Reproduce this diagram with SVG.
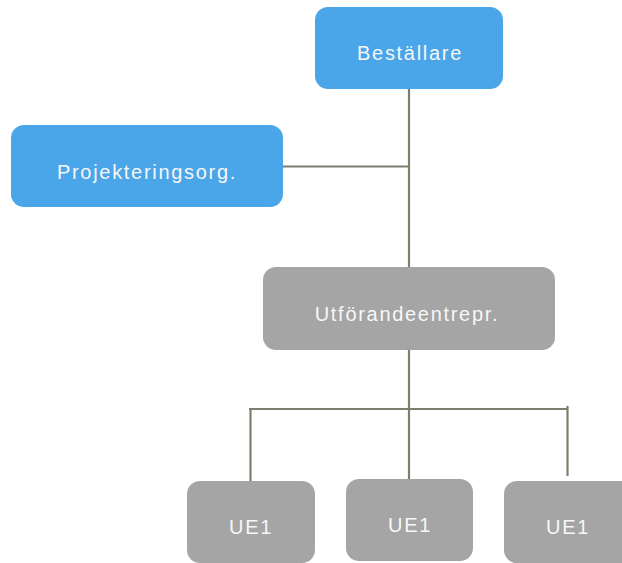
<svg xmlns="http://www.w3.org/2000/svg" width="622" height="563" viewBox="0 0 622 563">
  <style>
    .blue { fill: #4aa5e9; }
    .gray { fill: #a5a5a5; }
    .label { font-family: "Liberation Sans", Arial, sans-serif; font-size: 20px; fill: #f7f7f7; text-anchor: middle; letter-spacing: 1.7px; }
    .wire { stroke: #7f7e6e; stroke-width: 2.2; fill: none; }
  </style>
  <rect width="622" height="563" fill="#ffffff"/>

  <g id="connectors">
    <line class="wire" x1="409" y1="89" x2="409" y2="268"/>
    <line class="wire" x1="283" y1="166.5" x2="409" y2="166.5"/>
    <line class="wire" x1="409" y1="350" x2="409" y2="479"/>
    <line class="wire" x1="249" y1="409" x2="568" y2="409"/>
    <line class="wire" x1="250.5" y1="410" x2="250.5" y2="482"/>
    <line class="wire" x1="567.5" y1="406" x2="567.5" y2="476"/>
  </g>

  <g id="bestallare">
    <rect class="blue" x="315" y="7" width="188" height="82" rx="13"/>
    <text class="label" x="410" y="60">Beställare</text>
  </g>

  <g id="projekteringsorg">
    <rect class="blue" x="11" y="125" width="272" height="82" rx="13"/>
    <text class="label" x="147" y="179">Projekteringsorg.</text>
  </g>

  <g id="utforandeentrepr">
    <rect class="gray" x="263" y="267" width="292" height="83" rx="13"/>
    <text class="label" x="407" y="321">Utförandeentrepr.</text>
  </g>

  <g id="ue1-left">
    <rect class="gray" x="187" y="481" width="128" height="82" rx="13"/>
    <text class="label" x="251" y="534">UE1</text>
  </g>

  <g id="ue1-middle">
    <rect class="gray" x="346" y="479" width="127" height="82" rx="13"/>
    <text class="label" x="410" y="532">UE1</text>
  </g>

  <g id="ue1-right">
    <rect class="gray" x="504" y="481" width="140" height="82" rx="13"/>
    <text class="label" x="568" y="534">UE1</text>
  </g>
</svg>
